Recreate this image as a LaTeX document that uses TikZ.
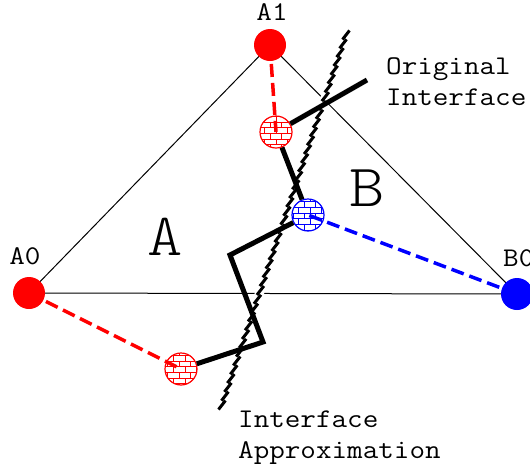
\documentclass[tikz,border=0pt]{standalone}
\usepackage{fontspec}
\newfontfamily\monofont{Latin Modern Mono}[FakeStretch=1.12]
\newfontfamily\regionfont{Latin Modern Mono Light}[FakeStretch=1.12]
\usetikzlibrary{patterns,calc}

\begin{document}
\begin{tikzpicture}[x=1pt, y=-1pt,
    dot/.style={circle, fill=#1, minimum size=32pt, inner sep=0pt},
    hatch/.style={circle, draw=#1, line width=1.2pt, minimum size=32pt, inner sep=0pt,
        preaction={fill=white}, pattern=bricks, pattern color=#1},
    link/.style={draw=#1, dash pattern=on 13pt off 6pt, line width=3.5pt},
    txt/.style={font=\monofont\fontsize{27}{31}\selectfont, inner sep=0pt},
    region/.style={font=\regionfont\fontsize{60}{60}\selectfont, inner sep=0pt},
    interface/.style={line width=5pt, line join=miter}
]
    \useasboundingbox (0,0) rectangle (530,472);

    % Triangle corners
    \coordinate (pA0) at (29,293);
    \coordinate (pA1) at (270,45);
    \coordinate (pB0) at (517,294);
    \draw[line width=1pt] (pA0) -- (pA1) -- (pB0) -- cycle;

    % Original interface (rope)
    \coordinate (rb) at (222,405);
    \coordinate (rt) at (346,35);
    \draw[white, line width=9pt] (rb) -- (rt);
    \foreach \i in {0,...,42} {
        \pgfmathsetmacro{\t}{\i/42}
        \draw[line width=3pt] ($(rb)!\t!(rt) + (-3.5,4.5)$) -- ($(rb)!\t!(rt) + (3.5,-4.5)$);
    }

    % Points
    \node[dot=red] (a0) at (pA0) {};
    \node[dot=red] (a1) at (pA1) {};
    \node[dot=blue] (b0) at (pB0) {};
    \node[hatch=red] (h1) at (276,132) {};
    \node[hatch=blue] (h2) at (308,215) {};
    \node[hatch=red] (h3) at (181,369) {};

    % Interface approximation
    \coordinate (oi) at (367,80);
    \coordinate (c1) at (230,255);
    \coordinate (c2) at (263,342);
    \draw[interface] (oi) -- (h1) -- (h2) -- (c1) -- (c2) -- (h3);

    % Links to the points
    \draw[link=red] (a1.center) -- (h1.center);
    \draw[link=red] (a0.center) -- (h3.center);
    \draw[link=blue] (b0.center) -- (h2.center);

    % Labels
    \node[txt] (la1) at (272,12) {A1};
    \node[txt] (la0) at (25,256) {A0};
    \node[txt, anchor=west] (lb0) at (503,258) {B0};
    \node[region] (ra) at (165,237) {A};
    \node[region] (rb2) at (367,188) {B};
    \node[txt, anchor=west, align=left] (lorig) at (386,82) {Original\\Interface};
    \node[txt, anchor=west, align=left] (lappr) at (238,438) {Interface\\Approximation};
\end{tikzpicture}
\end{document}
